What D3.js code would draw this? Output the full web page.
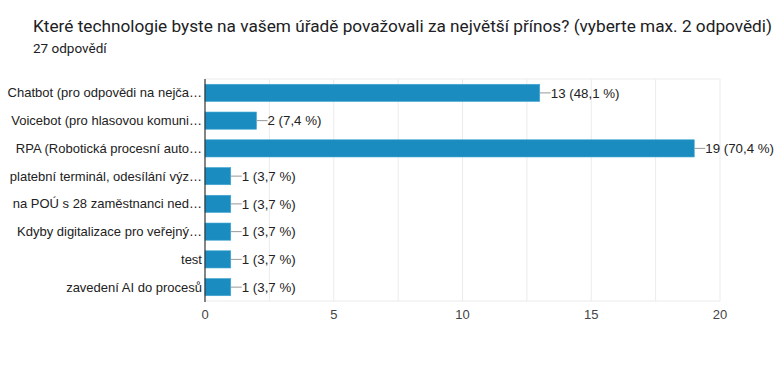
<!DOCTYPE html>
<html>
<head>
<meta charset="utf-8">
<script src="https://cdn.jsdelivr.net/npm/d3@7"></script>
<style>
body { margin: 0; background: #fff; }
svg text { font-family: "Liberation Sans", Arial, sans-serif; }
</style>
</head>
<body>
<script>
var categories = [
  "Chatbot (pro odpovědi na nejča…",
  "Voicebot (pro hlasovou komuni…",
  "RPA (Robotická procesní auto…",
  "platební terminál, odesílání výz…",
  "na POÚ s 28 zaměstnanci ned…",
  "Kdyby digitalizace pro veřejný…",
  "test",
  "zavedení AI do procesů"
];
var counts = [13, 2, 19, 1, 1, 1, 1, 1];
var percents = ["48,1", "7,4", "70,4", "3,7", "3,7", "3,7", "3,7", "3,7"];
var xTicks = [0, 5, 10, 15, 20];
var gridTicks = [2.5, 5, 7.5, 10, 12.5, 15, 17.5, 20];

var width = 778,
    height = 381;

var svg = d3.select("body").append("svg")
    .attr("width", width)
    .attr("height", height);

svg.append("text")
    .attr("x", 33).attr("y", 32)
    .style("font-family", "Roboto, sans-serif")
    .style("font-size", "17px")
    .attr("textLength", 739)
    .attr("lengthAdjust", "spacingAndGlyphs")
    .attr("fill", "#202124")
    .text("Které technologie byste na vašem úřadě považovali za největší přínos? (vyberte max. 2 odpovědi)");

svg.append("text")
    .attr("x", 33).attr("y", 53)
    .style("font-family", "Roboto, sans-serif")
    .style("font-size", "13.5px")
    .attr("fill", "#202124")
    .text("27 odpovědí");

var x = d3.scaleLinear().domain([0, 20]).range([205, 720]);
var y = d3.scaleBand().domain(categories).range([79, 301]).paddingInner(0.38).paddingOuter(0.19);

// grid
svg.selectAll(".grid").data(gridTicks).enter().append("line")
    .attr("x1", function(d){ return x(d); })
    .attr("x2", function(d){ return x(d); })
    .attr("y1", 79).attr("y2", 301)
    .attr("stroke", "#ebebeb");
svg.append("line")
    .attr("x1", 205).attr("x2", 720).attr("y1", 79).attr("y2", 79)
    .attr("stroke", "#ebebeb");
svg.append("line")
    .attr("x1", 205).attr("x2", 720).attr("y1", 301).attr("y2", 301)
    .attr("stroke", "#ebebeb");

// bars
svg.selectAll(".bar").data(counts).enter().append("rect")
    .attr("x", x(0))
    .attr("y", function(d, i){ return y(categories[i]); })
    .attr("width", function(d){ return x(d) - x(0); })
    .attr("height", y.bandwidth())
    .attr("fill", "#1a8cc0")
    .attr("stroke", "#45a6d2")
    .attr("stroke-width", 0.6);

// value leaders and labels
svg.selectAll(".lead").data(counts).enter().append("line")
    .attr("x1", function(d){ return x(d); })
    .attr("x2", function(d){ return x(d) + 11; })
    .attr("y1", function(d, i){ return y(categories[i]) + y.bandwidth() / 2; })
    .attr("y2", function(d, i){ return y(categories[i]) + y.bandwidth() / 2; })
    .attr("stroke", "#999");

svg.selectAll(".val").data(counts).enter().append("text")
    .attr("x", function(d){ return x(d) + 11; })
    .attr("y", function(d, i){ return y(categories[i]) + y.bandwidth() / 2; })
    .attr("dy", "0.35em")
    .style("font-size", "13.3px")
    .attr("fill", "#222")
    .text(function(d, i){ return d + " (" + percents[i] + " %)"; });

// category labels
svg.selectAll(".cat").data(categories).enter().append("text")
    .attr("x", 202)
    .attr("y", function(d){ return y(d) + y.bandwidth() / 2; })
    .attr("dy", "0.35em")
    .attr("text-anchor", "end")
    .style("font-size", "13px")
    .attr("fill", "#222")
    .text(function(d){ return d; });

// axis line
svg.append("line")
    .attr("x1", 205).attr("x2", 205).attr("y1", 79).attr("y2", 302)
    .attr("stroke", "#333").attr("stroke-width", 1.2);

// x tick labels
svg.selectAll(".xt").data(xTicks).enter().append("text")
    .attr("x", function(d){ return x(d); })
    .attr("y", 319)
    .attr("text-anchor", "middle")
    .style("font-size", "13px")
    .attr("fill", "#444")
    .text(function(d){ return d; });
</script>
</body>
</html>
